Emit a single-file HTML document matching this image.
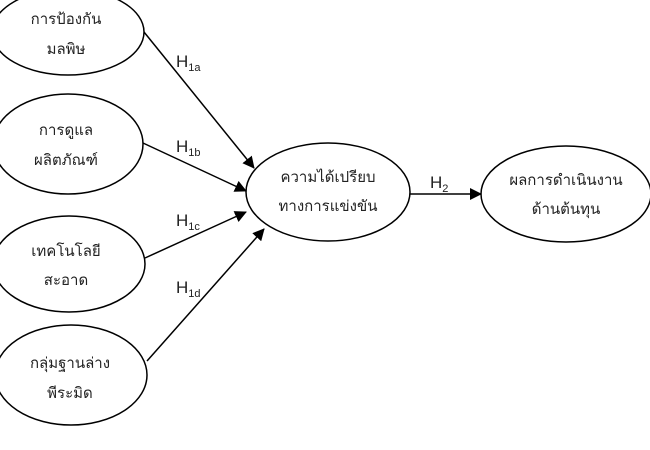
<!DOCTYPE html>
<html><head><meta charset="utf-8"><style>
html,body{margin:0;padding:0;background:#fff;}
svg{display:block;}
text{font-family:"Liberation Sans","DejaVu Sans",sans-serif;fill:#222;}
.th{font-size:15px;}
</style></head><body>
<svg width="650" height="450" viewBox="0 0 650 450">
<defs><marker id="a" markerWidth="12" markerHeight="12" refX="11" refY="6" orient="auto" markerUnits="userSpaceOnUse"><path d="M0,0 L12,6 L0,12 z" fill="#000"/></marker></defs>
<g fill="none" stroke="#000" stroke-width="1.5">
<ellipse cx="68" cy="32" rx="76" ry="43"/>
<ellipse cx="68" cy="144" rx="75" ry="50"/>
<ellipse cx="69" cy="264" rx="76" ry="48"/>
<ellipse cx="71" cy="375" rx="76" ry="50"/>
<ellipse cx="328" cy="192" rx="82" ry="49"/>
<ellipse cx="566" cy="194" rx="85" ry="48"/>
<line x1="144" y1="32" x2="254" y2="168" marker-end="url(#a)"/>
<line x1="143" y1="143" x2="246" y2="191" marker-end="url(#a)"/>
<line x1="145" y1="258" x2="246" y2="212" marker-end="url(#a)"/>
<line x1="147" y1="361" x2="264" y2="229" marker-end="url(#a)"/>
<line x1="410" y1="194" x2="481" y2="194" marker-end="url(#a)"/>
</g>
<g class="th" text-anchor="middle">
<text x="66" y="24">การป้องกัน</text><text x="66" y="54">มลพิษ</text>
<text x="66" y="135">การดูแล</text><text x="66" y="165">ผลิตภัณฑ์</text>
<text x="66" y="256">เทคโนโลยี</text><text x="66" y="285">สะอาด</text>
<text x="70" y="368">กลุ่มฐานล่าง</text><text x="70" y="398">พีระมิด</text>
<text x="328" y="182">ความได้เปรียบ</text><text x="328" y="211">ทางการแข่งขัน</text>
<text x="566" y="185">ผลการดำเนินงาน</text><text x="566" y="214">ด้านต้นทุน</text>
</g>
<g font-size="17">
<text x="176" y="67">H<tspan font-size="11" dy="4">1a</tspan></text>
<text x="176" y="152">H<tspan font-size="11" dy="4">1b</tspan></text>
<text x="176" y="226">H<tspan font-size="11" dy="4">1c</tspan></text>
<text x="176" y="293">H<tspan font-size="11" dy="4">1d</tspan></text>
<text x="430" y="188">H<tspan font-size="11" dy="4">2</tspan></text>
</g>
</svg>
</body></html>
